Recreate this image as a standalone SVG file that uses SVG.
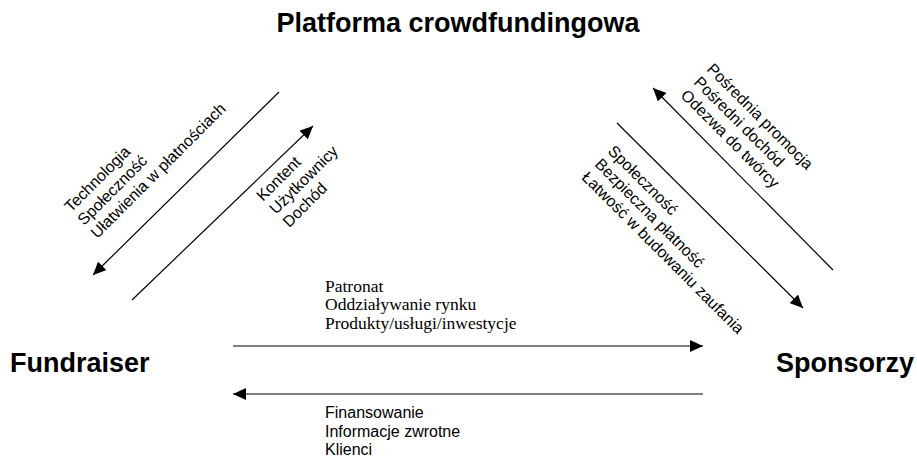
<svg xmlns="http://www.w3.org/2000/svg" width="917" height="458" viewBox="0 0 917 458">
<style>
.title{font-family:"Liberation Sans",Arial,sans-serif;font-weight:bold;font-size:27px;fill:#000}
.lbl{font-family:"Liberation Sans",Arial,sans-serif;font-size:16px;fill:#000}
.ser{font-family:"Liberation Serif","Times New Roman",serif;font-size:17.5px;fill:#000}
.con{stroke:#000;stroke-width:1.2;fill:none;marker-end:url(#ah)}
</style>
<defs>
<marker id="ah" markerUnits="userSpaceOnUse" markerWidth="14" markerHeight="12" refX="13" refY="6" orient="auto">
<path d="M0,0 L13,6 L0,12 z" fill="#000"/>
</marker>
</defs>
<rect width="917" height="458" fill="#fff"/>
<g id="platforma"><text class="title" x="458" y="32" text-anchor="middle">Platforma crowdfundingowa</text></g>
<g id="fundraiser"><text class="title" x="10" y="372">Fundraiser</text></g>
<g id="sponsorzy"><text class="title" x="776" y="372">Sponsorzy</text></g>
<g id="connectors">
<line class="con" x1="279" y1="92" x2="93" y2="275"/>
<line class="con" x1="132" y1="300" x2="313" y2="126"/>
<line class="con" x1="833" y1="270" x2="653" y2="88"/>
<line class="con" x1="617" y1="123" x2="803" y2="308"/>
<line class="con" x1="233" y1="346" x2="703" y2="346"/>
<line class="con" x1="703" y1="394" x2="233" y2="394"/>
</g>
<g id="labels">
<g transform="translate(71,213) rotate(-45)">
<text class="lbl" x="0" y="0">Technologia</text>
<text class="lbl" x="0" y="18.5">Społeczność</text>
<text class="lbl" x="0" y="37">Ułatwienia w płatnościach</text>
</g>
<g transform="translate(263,202) rotate(-45)">
<text class="lbl" x="0" y="0">Kontent</text>
<text class="lbl" x="0" y="18.5">Użytkownicy</text>
<text class="lbl" x="0" y="37">Dochód</text>
</g>
<g transform="translate(706,70) rotate(45)">
<text class="lbl" x="0" y="0">Pośrednia promocja</text>
<text class="lbl" x="0" y="18.5">Pośredni dochód</text>
<text class="lbl" x="0" y="37">Odezwa do twórcy</text>
</g>
<g transform="translate(607,152) rotate(45)">
<text class="lbl" x="0" y="0">Społeczność</text>
<text class="lbl" x="0" y="18.5">Bezpieczna płatność</text>
<text class="lbl" x="0" y="37">Łatwość w budowaniu zaufania</text>
</g>
<text class="ser" x="325" y="291.5">Patronat</text>
<text class="ser" x="325" y="310">Oddziaływanie rynku</text>
<text class="ser" x="325" y="328.5">Produkty/usługi/inwestycje</text>
<text class="lbl" x="325" y="418">Finansowanie</text>
<text class="lbl" x="325" y="436.5">Informacje zwrotne</text>
<text class="lbl" x="325" y="455">Klienci</text>
</g>
</svg>
